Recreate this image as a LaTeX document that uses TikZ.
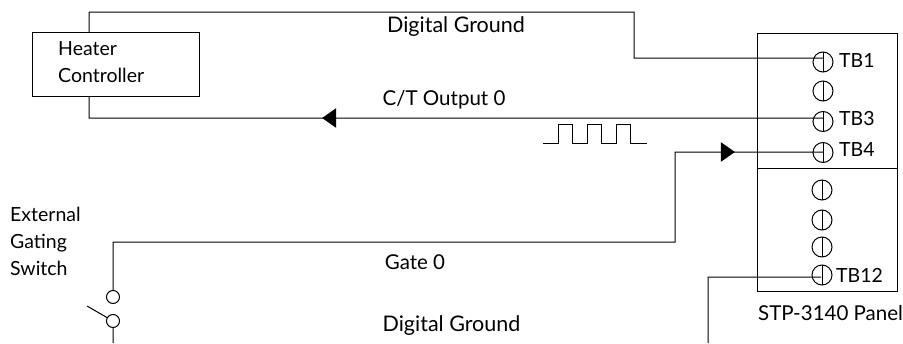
\documentclass[tikz,border=0pt]{standalone}
\usepackage{fontspec}
\setmainfont{Lato}
\usepackage{tikz}
\tikzset{term node/.style={circle,draw,line width=1pt,minimum size=20pt,inner sep=0pt,outer sep=0pt,
		path picture={\draw[line width=1pt] (path picture bounding box.north) -- (path picture bounding box.south);}},
	sw node/.style={circle,draw,line width=1pt,fill=white,minimum size=13pt,inner sep=0pt},
	tb label/.style={inner sep=0pt,anchor=west,font=\fontsize{19.5}{27}\selectfont},
	wire label/.style={inner sep=0pt,font=\fontsize{20.5}{26}\selectfont},
	gnd label/.style={inner sep=0pt,font=\fontsize{21.5}{26}\selectfont},
	plain box/.style={draw,line width=1pt,inner sep=0pt,outer sep=0pt},
	tip/.style={inner sep=0pt,fill=black,isosceles triangle,isosceles triangle apex angle=70,minimum height=14pt,minimum width=14pt},
}
\usetikzlibrary{positioning,shapes.geometric}

\begin{document}
\begin{tikzpicture}[x=1pt,y=-1pt]
	\useasboundingbox (0,0) rectangle (903,343);

	%% panel
	\node[plain box,minimum width=140pt,minimum height=135pt] (panelA) at (827,100.5) {};
	\node[plain box,minimum width=140pt,minimum height=123pt,below = 0pt of panelA] (panelB) {};
	\node[plain box,minimum width=167pt,minimum height=64pt] (heater) at (115.5,64) {};
	\node[tb label,align=left] (heaterText) at (58,62.5) {Heater\\Controller};

	%% terminals
	\node[term node] (1) at (823,62) {};
	\node[term node] (2) [below = 9pt of 1] {};
	\node[term node] (3) [below = 10.5pt of 2] {};
	\node[term node] (4) [below = 11pt of 3] {};
	\node[term node] (5) at (822,190) {};
	\node[term node] (6) [below = 10pt of 5] {};
	\node[term node] (7) [below = 7pt of 6] {};
	\node[term node] (12) [below = 8pt of 7] {};

	\node[tb label] (tb1) [right = 6pt of 1,yshift=2pt] {TB1};
	\node[tb label] (tb3) [right = 6pt of 3,yshift=3pt] {TB3};
	\node[tb label] (tb4) [right = 6pt of 4,yshift=3pt] {TB4};
	\node[tb label] (tb12) [right = 4pt of 12] {TB12};
	\node[wire label] (panelText) at (830.5,313) {STP-3140 Panel};

	%% wire labels
	\node[gnd label] (dgndA) at (456,27) {Digital Ground};
	\node[wire label] (ct) at (444,100) {C/T Output 0};
	\node[wire label] (gate) at (415,262) {Gate 0};
	\node[gnd label] (dgndB) at (451.5,326) {Digital Ground};

	%% switch
	\node[tb label,align=left] (swText) at (10,241) {External\\Gating\\Switch};
	\node[sw node] (swA) at (113,297) {};
	\node[sw node] (swB) at (113,321) {};

	%% wire corners and ends
	\coordinate (a1) at (89,12);
	\coordinate (a2) at (634,12);
	\coordinate (a3) at (634,58);
	\coordinate (a4) at (823,58);
	\coordinate (b0) at (89,96);
	\coordinate (b1) at (89,118);
	\coordinate (b2) at (823,118);
	\coordinate (c1) at (113,242);
	\coordinate (c2) at (675,242);
	\coordinate (c3) at (675,152);
	\coordinate (d1) at (821,277);
	\coordinate (d2) at (708,277);
	\coordinate (d3) at (708,343);
	\coordinate (e1) at (113,343);
	\coordinate (e2) at (87,306);

	\path[draw,line width=1pt]
	(a1) -- (a2) -- (a3) -- (a4)
	(a1) -- (a1 |- heater.north)
	(b0) -- (b1) -- (b2)
	(swA) -- (c1) -- (c2) -- (c3) -- (4.center |- c3)
	(d1) -- (d2) -- (d3)
	(swB) -- (e1)
	(swB) -- (e2)
	;

	%% arrow heads
	\node[tip,shape border rotate=180] (tipA) at (331,118) {};
	\node[tip] (tipB) at (726,152) {};

	%% pulse train
	\draw[line width=1pt] (543,143) -- (558,143) -- (558,124) -- (572,124) -- (572,143) -- (587,143)
	-- (587,124) -- (601,124) -- (601,143) -- (616,143) -- (616,124) -- (630,124) -- (630,143) -- (647,143);
\end{tikzpicture}
\end{document}
